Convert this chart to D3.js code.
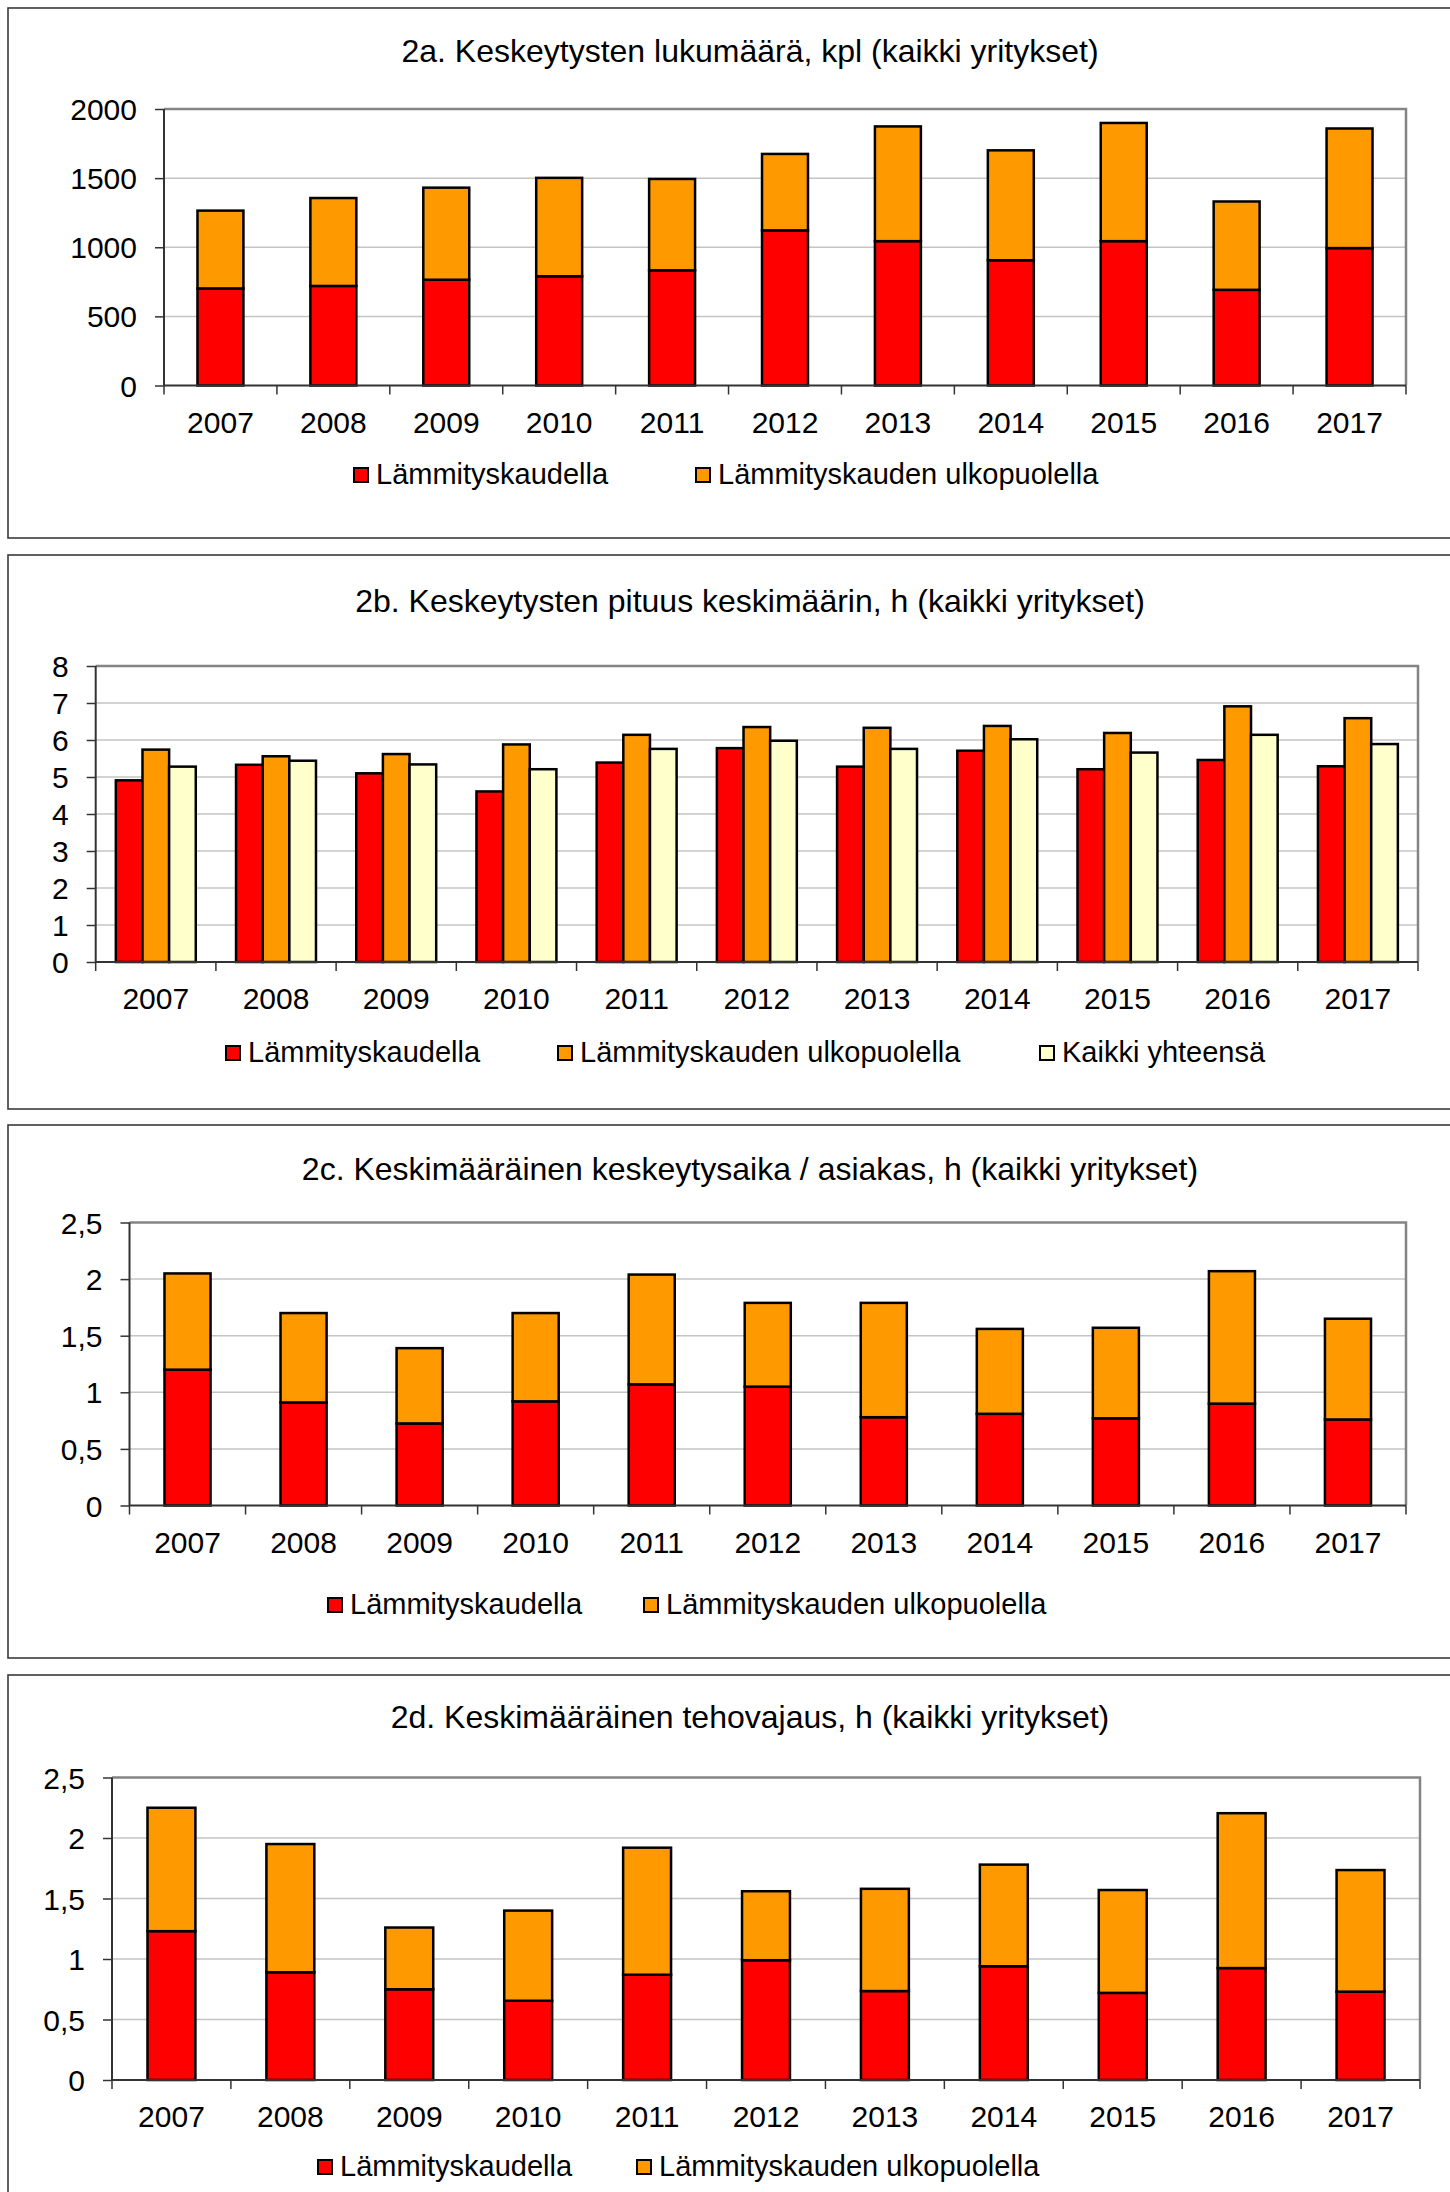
<!DOCTYPE html>
<html>
<head>
<meta charset="utf-8">
<script src="https://cdn.jsdelivr.net/npm/d3@7"></script>
<style>
  html, body { margin: 0; padding: 0; background: #fff; }
  svg { display: block; font-family: "Liberation Sans", Arial, sans-serif; }
</style>
</head>
<body>
<svg id="chart" width="1450" height="2192"></svg>
<script>
// ---------- DATA ----------
const years = ["2007","2008","2009","2010","2011","2012","2013","2014","2015","2016","2017"];
const seriesNames = ["Lämmityskaudella", "Lämmityskauden ulkopuolella", "Kaikki yhteensä"];

// 2a. Keskeytysten lukumäärä, kpl
const countHeating = [702, 720, 765, 790, 833, 1122, 1044, 906, 1044, 692, 994];
const countOutside = [563, 636, 666, 712, 661, 553, 830, 795, 855, 639, 865];
const countTicks = [0, 500, 1000, 1500, 2000];

// 2b. Keskeytysten pituus keskimäärin, h
const durHeating = [4.91, 5.33, 5.10, 4.61, 5.39, 5.78, 5.28, 5.71, 5.21, 5.46, 5.29];
const durOutside = [5.74, 5.56, 5.62, 5.88, 6.14, 6.35, 6.33, 6.38, 6.19, 6.91, 6.59];
const durTotal   = [5.28, 5.44, 5.34, 5.21, 5.76, 5.98, 5.76, 6.02, 5.66, 6.14, 5.89];
const durTicks = [0, 1, 2, 3, 4, 5, 6, 7, 8];

// 2c. Keskimääräinen keskeytysaika / asiakas, h
const custHeating = [1.20, 0.91, 0.725, 0.92, 1.07, 1.05, 0.78, 0.81, 0.77, 0.90, 0.76];
const custOutside = [0.85, 0.79, 0.665, 0.78, 0.97, 0.74, 1.01, 0.75, 0.80, 1.17, 0.89];
const custTicks = [0, 0.5, 1, 1.5, 2, 2.5];

// 2d. Keskimääräinen tehovajaus, h
const powHeating = [1.23, 0.89, 0.75, 0.655, 0.87, 0.99, 0.735, 0.94, 0.72, 0.925, 0.73];
const powOutside = [1.02, 1.06, 0.51, 0.745, 1.05, 0.57, 0.845, 0.84, 0.85, 1.28, 1.005];
const powTicks = [0, 0.5, 1, 1.5, 2, 2.5];

const titles = [
  "2a. Keskeytysten lukumäärä, kpl (kaikki yritykset)",
  "2b. Keskeytysten pituus keskimäärin, h (kaikki yritykset)",
  "2c. Keskimääräinen keskeytysaika / asiakas, h (kaikki yritykset)",
  "2d. Keskimääräinen tehovajaus, h (kaikki yritykset)"
];

// ---------- STYLE ----------
const colors = ["#FF0000", "#FF9900", "#FFFFCC"];
const fiCommaFmt = d => String(d).replace(".", ",");

const svg = d3.select("#chart");

function frame(top, bottom) {
  svg.append("rect")
    .attr("x", 8).attr("y", top)
    .attr("width", 1500).attr("height", bottom - top)
    .attr("fill", "#fff").attr("stroke", "#3a3a3a").attr("stroke-width", 1.6);
}

function panelBase(cfg) {
  frame(cfg.frameTop, cfg.frameBottom);
  const g = svg.append("g");
  // title
  g.append("text").attr("x", 750).attr("y", cfg.titleY)
    .attr("text-anchor", "middle").attr("font-size", 32).attr("fill", "#000")
    .text(cfg.title);

  const y = d3.scaleLinear().domain([0, cfg.ticks[cfg.ticks.length - 1]])
    .range([cfg.B, cfg.T]);
  const x = d3.scaleBand().domain(years).range([cfg.L, cfg.R])
    .paddingInner(cfg.pad).paddingOuter(cfg.pad / 2);

  // gridlines
  g.append("g").selectAll("line").data(cfg.ticks.slice(1, -1)).join("line")
    .attr("x1", cfg.L).attr("x2", cfg.R)
    .attr("y1", d => y(d)).attr("y2", d => y(d))
    .attr("stroke", "#c4c4c4").attr("stroke-width", 1.5);

  // top & right border of plot area
  g.append("path")
    .attr("d", `M${cfg.L},${cfg.T}H${cfg.R}V${cfg.B}`)
    .attr("fill", "none").attr("stroke", "#848484").attr("stroke-width", 2.5);

  // y axis
  const yAxis = d3.axisLeft(y).tickValues(cfg.ticks).tickFormat(cfg.fmt)
    .tickSize(9).tickPadding(18);
  const ya = g.append("g").attr("transform", `translate(${cfg.L},0)`).call(yAxis);
  ya.select(".domain").remove();
  ya.selectAll(".tick line").attr("stroke", "#333").attr("stroke-width", 1.5);
  ya.selectAll(".tick text").attr("font-size", 30).attr("fill", "#000")
    .attr("font-family", "Liberation Sans, Arial, sans-serif").attr("dy", "0.35em");
  g.append("line").attr("x1", cfg.L).attr("x2", cfg.L).attr("y1", cfg.T).attr("y2", cfg.B)
    .attr("stroke", "#333").attr("stroke-width", 2);

  return { g, x, y };
}

function panelAxisX(cfg, g, x) {
  // baseline
  g.append("line").attr("x1", cfg.L).attr("x2", cfg.R).attr("y1", cfg.B).attr("y2", cfg.B)
    .attr("stroke", "#333").attr("stroke-width", 2);
  // tick marks at category boundaries
  const bounds = d3.range(years.length + 1).map(i => cfg.L + i * x.step());
  g.append("g").selectAll("line").data(bounds).join("line")
    .attr("x1", d => d).attr("x2", d => d)
    .attr("y1", cfg.B).attr("y2", cfg.B + 9)
    .attr("stroke", "#333").attr("stroke-width", 1.5);
  // labels
  g.append("g").selectAll("text").data(years).join("text")
    .attr("x", d => x(d) + x.bandwidth() / 2).attr("y", cfg.B + 47)
    .attr("text-anchor", "middle").attr("font-size", 30).attr("fill", "#000")
    .text(d => d);
}

function legend(g, cfg, n) {
  const items = d3.range(n).map(i => ({ name: seriesNames[i], color: colors[i], x: cfg.legendX[i] }));
  const lg = g.append("g").selectAll("g").data(items).join("g");
  lg.append("rect")
    .attr("x", d => d.x + 1).attr("y", cfg.legendY - 16)
    .attr("width", 14).attr("height", 14)
    .attr("fill", d => d.color).attr("stroke", "#000").attr("stroke-width", 2);
  lg.append("text")
    .attr("x", d => d.x + 23).attr("y", cfg.legendY)
    .attr("font-size", 29).attr("fill", "#000")
    .text(d => d.name);
}

function stackedPanel(cfg, heating, outside) {
  const { g, x, y } = panelBase(cfg);
  const rows = years.map((yr, i) => ({ year: yr, a: heating[i], b: outside[i] }));
  const stacked = d3.stack().keys(["a", "b"])(rows);
  g.append("g").selectAll("g").data(stacked).join("g")
    .attr("fill", (d, i) => colors[i])
    .selectAll("rect").data(d => d).join("rect")
    .attr("x", d => x(d.data.year)).attr("width", x.bandwidth())
    .attr("y", d => y(d[1])).attr("height", d => y(d[0]) - y(d[1]))
    .attr("stroke", "#000").attr("stroke-width", 2.5);
  panelAxisX(cfg, g, x);
  legend(g, cfg, 2);
}

function groupedPanel(cfg, s1, s2, s3) {
  const { g, x, y } = panelBase(cfg);
  const keys = [0, 1, 2];
  const xi = d3.scaleBand().domain(keys).range([0, x.bandwidth()]).padding(0);
  const vals = [s1, s2, s3];
  const rows = years.map((yr, i) => ({ year: yr, v: keys.map(k => ({ k, value: vals[k][i] })) }));
  g.append("g").selectAll("g").data(rows).join("g")
    .attr("transform", d => `translate(${x(d.year)},0)`)
    .selectAll("rect").data(d => d.v).join("rect")
    .attr("x", d => xi(d.k)).attr("width", xi.bandwidth())
    .attr("y", d => y(d.value)).attr("height", d => y(0) - y(d.value))
    .attr("fill", d => colors[d.k])
    .attr("stroke", "#000").attr("stroke-width", 2.5);
  panelAxisX(cfg, g, x);
  legend(g, cfg, 3);
}

// ---------- PANELS ----------
stackedPanel({
  title: titles[0], frameTop: 8, frameBottom: 538, titleY: 62,
  L: 164, R: 1406, T: 109, B: 385.5, pad: 0.593,
  ticks: countTicks, fmt: d3.format("d"),
  legendX: [353, 695], legendY: 484
}, countHeating, countOutside);

groupedPanel({
  title: titles[1], frameTop: 555, frameBottom: 1109, titleY: 612,
  L: 95.7, R: 1418, T: 666, B: 962, pad: 0.335,
  ticks: durTicks, fmt: d3.format("d"),
  legendX: [225, 557, 1039], legendY: 1062
}, durHeating, durOutside, durTotal);

stackedPanel({
  title: titles[2], frameTop: 1125, frameBottom: 1658, titleY: 1180,
  L: 129.5, R: 1406, T: 1222.5, B: 1505.5, pad: 0.603,
  ticks: custTicks, fmt: fiCommaFmt,
  legendX: [327, 643], legendY: 1614
}, custHeating, custOutside);

stackedPanel({
  title: titles[3], frameTop: 1675, frameBottom: 2260, titleY: 1728,
  L: 112, R: 1420, T: 1777.5, B: 2080, pad: 0.597,
  ticks: powTicks, fmt: fiCommaFmt,
  legendX: [317, 636], legendY: 2176
}, powHeating, powOutside);
</script>
</body>
</html>
